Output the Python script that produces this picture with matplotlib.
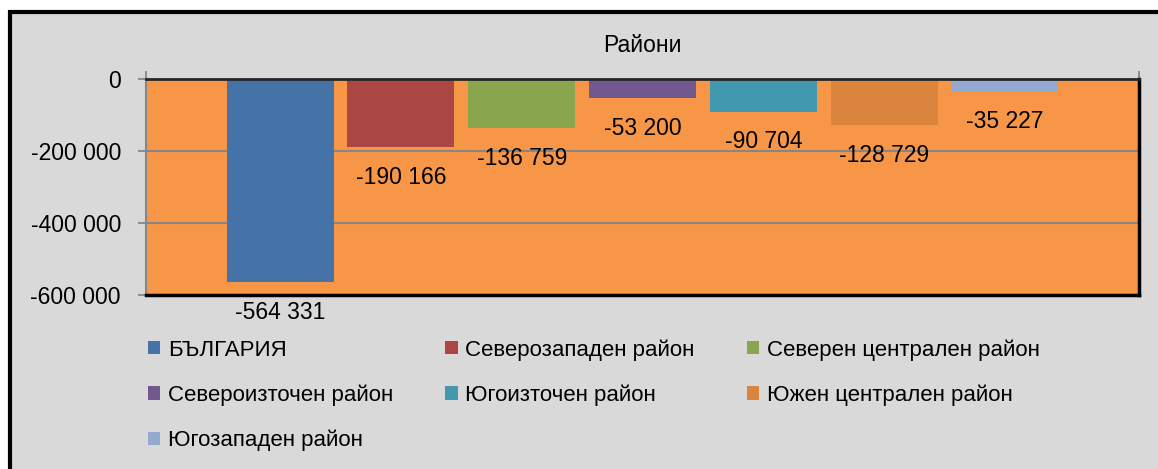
import matplotlib
matplotlib.use("Agg")
import matplotlib.pyplot as plt
from matplotlib.patches import Rectangle
from matplotlib.ticker import FuncFormatter

plt.rcParams['font.family'] = ['Liberation Sans', 'DejaVu Sans']

title = "Райони"
series = ["БЪЛГАРИЯ", "Северозападен район", "Северен централен район",
          "Североизточен район", "Югоизточен район", "Южен централен район",
          "Югозападен район"]
values = [-564331, -190166, -136759, -53200, -90704, -128729, -35227]
colors = ["#4572A7", "#AA4643", "#89A54E", "#71588F", "#4198AF", "#DB843D", "#93A9CF"]
yticks = [0, -200000, -400000, -600000]

W, H = 1158, 469
fig = plt.figure(figsize=(W / 100, H / 100), dpi=100, facecolor="white")

# outer chart area with black frame (top & left visible)
bg = Rectangle((10 / W, -0.05), 1.1, (H - 12.5) / H + 0.05, transform=fig.transFigure,
               facecolor="#D9D9D9", edgecolor="black", linewidth=3, zorder=-5)
fig.patches.append(bg)

ax = fig.add_axes([146 / W, 1 - 295 / H, (1139 - 146) / W, (295 - 79) / H])
ax.set_zorder(2)
ax.set_facecolor("#F79646")

slot = 120.8 / 993
width = 107 / 993
n = len(values)
handles = []
for i, (name, v, c) in enumerate(zip(series, values, colors)):
    x = (i - (n - 1) / 2) * slot
    b = ax.bar(x, v, width=width, color=c, label=name, zorder=3)
    handles.append(b)
    ax.annotate(f"{v:,}".replace(",", " "), (x, v), xytext=(0, -30),
                textcoords="offset pixels", ha="center", va="center",
                fontsize=16.5, color="black", zorder=5, annotation_clip=False)

ax.set_xlim(-0.5, 0.5)
ax.set_ylim(-600000, 0)
ax.set_yticks(yticks)
ax.yaxis.set_major_formatter(FuncFormatter(lambda v, p: f"{int(v):,}".replace(",", " ")))
ax.tick_params(axis="y", direction="out", length=6, width=1.3, color="#868686",
               labelsize=16.5, pad=12)
ax.grid(axis="y", color="#868686", linewidth=1.5, zorder=1)
ax.set_axisbelow(True)

ax.xaxis.tick_top()
ax.set_xticks([-0.5, 0.5])
ax.set_xticklabels([])
ax.tick_params(axis="x", direction="out", length=6, width=1.3, color="#868686")

ax.spines["left"].set_color("#868686")
ax.spines["left"].set_linewidth(1.5)
ax.spines["top"].set_color("#262626")
ax.spines["top"].set_linewidth(2)
ax.spines["right"].set_color("black")
ax.spines["right"].set_linewidth(2.5)
ax.spines["bottom"].set_color("black")
ax.spines["bottom"].set_linewidth(2.5)
for s in ax.spines.values():
    s.set_zorder(4)

fig.text((146 + 1139) / 2 / W, 1 - 46 / H, title, ha="center", va="center", fontsize=16.5)

order = [0, 3, 6, 1, 4, 2, 5]
leg = fig.legend([handles[i] for i in order], [series[i] for i in order],
                 ncol=3, loc="upper left", bbox_to_anchor=(148 / W, 1 - 339 / H),
                 frameon=False, fontsize=16, handlelength=0.55, handleheight=0.55,
                 handletextpad=0.35, columnspacing=2.35, labelspacing=1.07,
                 borderaxespad=0, borderpad=0)

fig.savefig("out.png", dpi=100, facecolor="white")
